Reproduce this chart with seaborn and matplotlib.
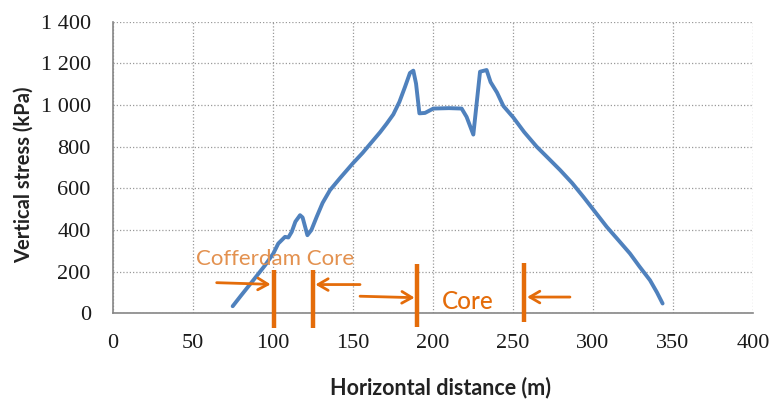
import matplotlib
matplotlib.use("Agg")
import matplotlib.pyplot as plt
import seaborn as sns
import pandas as pd
from matplotlib.ticker import FuncFormatter

# ---- data ----
distance = [74.8, 80, 87.7, 95, 100.2, 103.3, 107.5, 109.6, 111.7, 114, 116.9, 118.5,
            121.5, 124, 127.3, 131, 135.6, 142, 149.8, 156, 162.7, 167, 171, 175.2,
            179, 182.5, 185.6, 187.7, 189.4, 191.5, 195, 200.2, 210, 217.9, 221,
            225.2, 229.4, 233.5, 236, 240, 244, 250.2, 257, 264.8, 272, 279.4, 287,
            294, 301, 308.6, 316, 323.1, 329, 335.6, 340, 343.5]
stress = [34, 85, 159, 230, 287, 335, 367, 364, 391, 440, 471, 460,
          375, 400, 463, 530, 591, 650, 719, 770, 831, 870, 910, 955,
          1015, 1087, 1154, 1165, 1103, 960, 962, 983, 985, 983, 943,
          858, 1160, 1168, 1110, 1060, 995, 940, 870, 800, 745, 688, 625,
          559, 490, 415, 350, 287, 225, 159, 100, 47]

x_ticks = [0, 50, 100, 150, 200, 250, 300, 350, 400]
y_ticks = [0, 200, 400, 600, 800, 1000, 1200, 1400]

# orange zone markers (x position, top, bottom) in data units
bar_x = [100.6, 125.2, 190.2, 256.9]
bar_top = [207, 207, 235, 242]
bar_bottom = [-72, -72, -66, -42]

# arrows: (start x, start y) -> (end x, end y)
arrow_start = [(64.8, 147), (154.4, 138), (154.4, 82), (285.6, 78)]
arrow_end = [(98.5, 139), (126.5, 138), (188.5, 75), (258.8, 78)]

label_cofferdam = "Cofferdam Core"
label_core = "Core"

sns.set_theme(style="whitegrid")
plt.rcParams["font.family"] = ["Lato", "DejaVu Sans"]

fig = plt.figure(figsize=(7.74, 4.0), dpi=100)
ax = fig.add_axes([113 / 774, 86.7 / 400, 640 / 774, 291.6 / 400])
ax.set_facecolor("white")

df = pd.DataFrame({"x": distance, "y": stress})
sns.lineplot(data=df, x="x", y="y", ax=ax, color="#4F81BD", lw=2.8,
             sort=False, zorder=3)

orange = "#E46C0A"
for bx, bt, bb in zip(bar_x, bar_top, bar_bottom):
    ax.plot([bx, bx], [bb, bt], color=orange, lw=3.2, solid_capstyle="butt",
            clip_on=False, zorder=4)

for (sx, sy), (ex, ey) in zip(arrow_start, arrow_end):
    ax.annotate("", xy=(ex, ey), xytext=(sx, sy),
                arrowprops=dict(arrowstyle="->,head_length=0.6,head_width=0.35",
                                color=orange, lw=2.0, shrinkA=0, shrinkB=0),
                zorder=4)

ax.text(101.3, 234, label_cofferdam, ha="center", va="baseline",
        fontsize=16, color="#E3914F", family=["Lato", "DejaVu Sans"], zorder=5)
ax.text(221.7, 22.6, label_core, ha="center", va="baseline",
        fontsize=17.5, color=orange, family=["Lato", "DejaVu Sans"],
        fontweight="medium", zorder=5)

ax.set_xlim(0, 400)
ax.set_ylim(0, 1400)
ax.set_xticks(x_ticks)
ax.set_yticks(y_ticks)
ax.yaxis.set_major_formatter(FuncFormatter(lambda v, p: f"{int(v):,}".replace(",", " ")))

ax.grid(True, color="#9A9A9A", linestyle=(0, (1, 1.6)), lw=0.9)
for s in ["top", "right"]:
    ax.spines[s].set_visible(False)
for s in ["left", "bottom"]:
    ax.spines[s].set_visible(True)
    ax.spines[s].set_color("#868686")
    ax.spines[s].set_linewidth(1.2)

ax.tick_params(axis="both", direction="out", length=5, width=1, color="#868686",
               labelsize=16, labelcolor="#1a1a1a")
ax.tick_params(axis="y", pad=11)
ax.tick_params(axis="x", pad=10)
for lab in ax.get_xticklabels() + ax.get_yticklabels():
    lab.set_family("Liberation Serif")

ax.set_xlabel("Horizontal distance (m)", fontsize=15.5, fontweight="bold", color="#222222")
ax.set_ylabel("Vertical stress (kPa)", fontsize=14.5, fontweight="bold", color="#222222")
ax.xaxis.label.set_va("center")
ax.yaxis.label.set_va("center")
ax.xaxis.set_label_coords((440 - 113) / 640, (313.3 - 388) / 291.6)
ax.yaxis.set_label_coords((23.5 - 113) / 640, (313.3 - 175) / 291.6)

fig.savefig("out.png", dpi=100, facecolor="white")
